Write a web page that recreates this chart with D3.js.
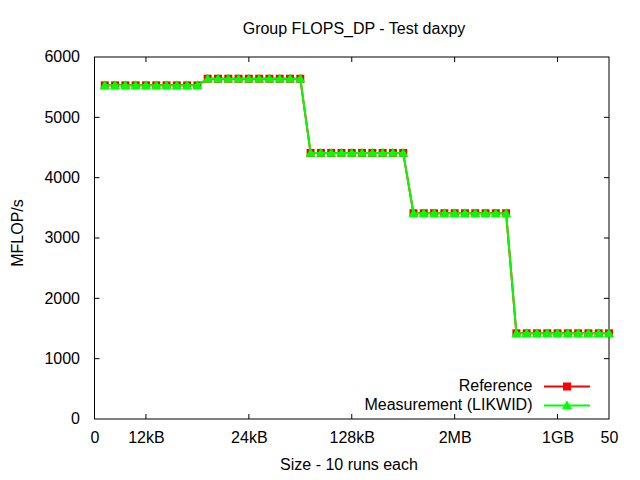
<!DOCTYPE html>
<html><head><meta charset="utf-8">
<script src="https://cdn.jsdelivr.net/npm/d3@7"></script>
<style>body{margin:0;background:#fff}svg{display:block}text{font-family:"Liberation Sans",Arial,sans-serif;fill:#000}</style>
</head><body><svg id="c" width="640" height="480"></svg>
<script>
const sizes = d3.range(1, 51);
const referenceValues = [
 5530,5530,5530,5530,5530,5530,5530,5530,5530,5530,
 5640,5640,5640,5640,5640,5640,5640,5640,5640,5640,
 4410,4410,4410,4410,4410,4410,4410,4410,4410,4410,
 3410,3410,3410,3410,3410,3410,3410,3410,3410,3410,
 1420,1420,1420,1420,1420,1420,1420,1420,1420,1420];
const measurementValues = [
 5530,5530,5530,5530,5530,5530,5530,5530,5530,5530,
 5640,5640,5640,5640,5640,5640,5640,5640,5640,5640,
 4410,4410,4410,4410,4410,4410,4410,4410,4410,4410,
 3410,3410,3410,3410,3410,3410,3410,3410,3410,3410,
 1420,1420,1420,1420,1420,1420,1420,1420,1420,1420];
const xTickValues = [0, 5, 15, 25, 35, 45, 50];
const xTickLabels = ["0", "12kB", "24kB", "128kB", "2MB", "1GB", "50"];
const yTickValues = [0, 1000, 2000, 3000, 4000, 5000, 6000];
const seriesNames = ["Reference", "Measurement (LIKWID)"];
const seriesColors = ["#ff0000", "#00ff00"];

const svg = d3.select("#c");
const L = 94.5, R = 609, T = 57, B = 419;
const x = d3.scaleLinear().domain([0, 50]).range([L, R]);
const y = d3.scaleLinear().domain([0, 6000]).range([B, T]);
const fs = 16;
const ff = "Liberation Sans, Arial, sans-serif";

// frame
svg.append("rect").attr("x", L).attr("y", T).attr("width", R - L).attr("height", B - T)
  .attr("fill", "none").attr("stroke", "#000").attr("stroke-width", 1);

const tl = 5;
// x ticks
const xAxisB = d3.axisBottom(x).tickValues(xTickValues).tickSize(0).tickFormat((d,i)=>xTickLabels[i]);
const gx = svg.append("g").attr("transform", `translate(0,${B})`).call(xAxisB);
gx.select(".domain").remove();
gx.selectAll("text").attr("dy", 0).attr("y", 24).style("font-size", fs + "px").style("font-family", ff);
xTickValues.forEach(v => {
  if (v === 0 || v === 50) return;
  svg.append("line").attr("x1", x(v)).attr("x2", x(v)).attr("y1", B).attr("y2", B - tl).attr("stroke", "#000");
  svg.append("line").attr("x1", x(v)).attr("x2", x(v)).attr("y1", T).attr("y2", T + tl).attr("stroke", "#000");
});
// y ticks
const yAxisL = d3.axisLeft(y).tickValues(yTickValues).tickSize(0).tickFormat(d3.format("d"));
const gy = svg.append("g").attr("transform", `translate(${L},0)`).call(yAxisL);
gy.select(".domain").remove();
gy.selectAll("text").attr("x", -14.5).attr("dy", "0.3em").style("font-size", fs + "px").style("font-family", ff);
yTickValues.forEach(v => {
  if (v === 0 || v === 6000) return;
  svg.append("line").attr("x1", L).attr("x2", L + tl).attr("y1", y(v)).attr("y2", y(v)).attr("stroke", "#000");
  svg.append("line").attr("x1", R).attr("x2", R - tl).attr("y1", y(v)).attr("y2", y(v)).attr("stroke", "#000");
});

// title & labels
svg.append("text").attr("x", 354).attr("y", 34).attr("text-anchor", "middle").style("font-size", fs + "px").text("Group FLOPS_DP - Test daxpy");
svg.append("text").attr("x", 349).attr("y", 470).attr("text-anchor", "middle").style("font-size", fs + "px").text("Size - 10 runs each");
svg.append("text").attr("transform", "translate(23,233) rotate(-90)").attr("text-anchor", "middle").style("font-size", fs + "px").text("MFLOP/s");

const line = d3.line().x((d, i) => x(sizes[i])).y(d => y(d));
const sq = 8;
function triPath(cx, cy) {
  const h = 5;
  return `M${cx},${cy - h}L${cx + h},${cy + h * 0.75}L${cx - h},${cy + h * 0.75}Z`;
}
// reference
svg.append("path").datum(referenceValues).attr("d", line).attr("fill", "none").attr("stroke", seriesColors[0]).attr("stroke-width", 2);
svg.append("g").selectAll("rect").data(referenceValues).join("rect")
  .attr("x", (d, i) => x(sizes[i]) - sq / 2).attr("y", d => y(d) - sq / 2).attr("width", sq).attr("height", sq).attr("fill", seriesColors[0]);
// measurement
svg.append("path").datum(measurementValues).attr("d", line).attr("fill", "none").attr("stroke", seriesColors[1]).attr("stroke-width", 2);
svg.append("g").selectAll("path").data(measurementValues).join("path")
  .attr("d", (d, i) => triPath(x(sizes[i]), y(d))).attr("fill", seriesColors[1]);

// legend
const legY = [386.5, 405.5];
seriesNames.forEach((n, i) => {
  svg.append("text").attr("x", 532.5).attr("y", legY[i]).attr("dy", "0.3em").attr("text-anchor", "end").style("font-size", fs + "px").text(n);
  svg.append("line").attr("x1", 544).attr("x2", 590).attr("y1", legY[i]).attr("y2", legY[i]).attr("stroke", seriesColors[i]).attr("stroke-width", 2);
  if (i === 0) svg.append("rect").attr("x", 567 - sq / 2).attr("y", legY[i] - sq / 2).attr("width", sq).attr("height", sq).attr("fill", seriesColors[0]);
  else svg.append("path").attr("d", triPath(567, legY[i])).attr("fill", seriesColors[1]);
});
</script></body></html>
